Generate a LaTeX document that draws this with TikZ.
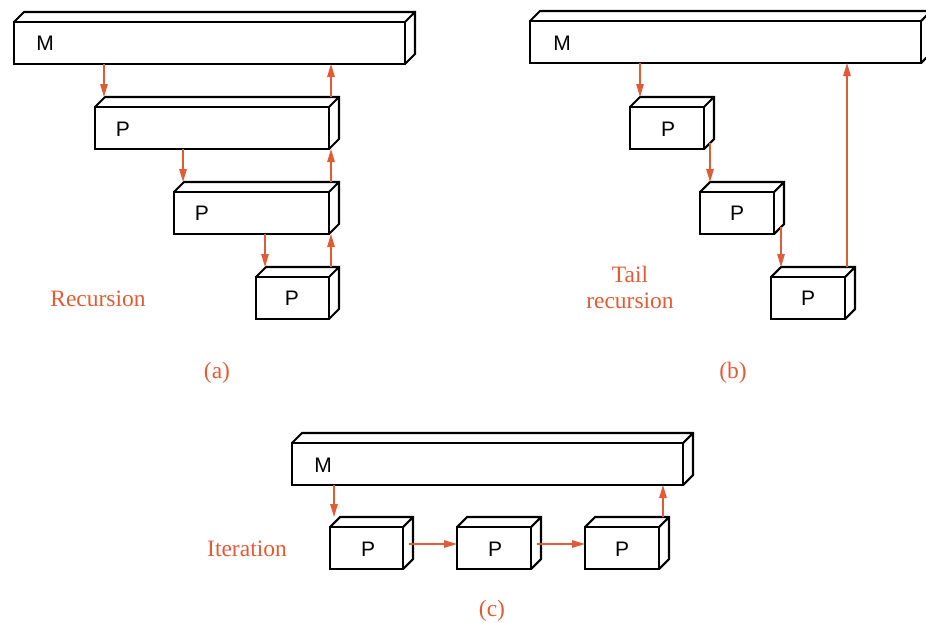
\documentclass[tikz,border=0pt]{standalone}
\usepackage{fontspec}
\setmainfont{Liberation Serif}
\newfontfamily\labsans{Liberation Sans}
\usetikzlibrary{calc,arrows.meta}
\definecolor{accent}{RGB}{224,92,54}
\newcommand\boxthreed[4]{%
  \node[frontface, minimum width=#4pt, anchor=north west] (#1) at (#2,#3) {};
  \coordinate (#1-t) at ($(#1.north west)+(10,-10)$);
  \draw[boxedge] (#1.north west) -- (#1-t) -- ($(#1.north east)+(10,-10)$)
     -- ($(#1.south east)+(10,-10)$) -- (#1.south east)
     (#1.north east) -- ($(#1.north east)+(10,-10)$);
}
\tikzset{
  frontface/.style={draw, line width=2.1pt, minimum height=42pt, inner sep=0pt, outer sep=0pt, rectangle},
  boxedge/.style={line width=2.1pt},
  arr/.style={draw=accent, line width=1.3pt, -{Triangle[length=13pt,width=7.5pt]}},
  boxlabel/.style={font=\labsans\fontsize{21}{24}\selectfont},
  caption/.style={text=accent, font=\fontsize{23.5}{26}\selectfont, align=center}
}
\begin{document}
\begin{tikzpicture}[x=1pt,y=-1pt]
\useasboundingbox (0,0) rectangle (926,622);
% ---------------- (a) recursion
\boxthreed{mA}{14}{22}{391}
\boxthreed{pA1}{95}{107}{234}
\boxthreed{pA2}{174}{192}{155}
\boxthreed{pA3}{256}{277}{73}
\node[boxlabel] (lmA) at (45,43) {M};
\node[boxlabel] (lpA1) at (123,129) {P};
\node[boxlabel] (lpA2) at (202,213) {P};
\node[boxlabel] (lpA3) at (292,298) {P};
\coordinate (ad1) at ($(mA.south west)+(90,0)$);
\draw[arr] (ad1) -- (ad1 |- pA1-t);
\coordinate (au1) at ($(pA1-t)+(226,0)$);
\draw[arr] (au1) -- (au1 |- mA.south);
\coordinate (ad2) at ($(pA1.south west)+(88,0)$);
\draw[arr] (ad2) -- (ad2 |- pA2-t);
\coordinate (au2) at ($(pA2-t)+(147,0)$);
\draw[arr] (au2) -- (au2 |- pA1.south);
\coordinate (ad3) at ($(pA2.south west)+(91,0)$);
\draw[arr] (ad3) -- (ad3 |- pA3-t);
\coordinate (au3) at ($(pA3-t)+(65,0)$);
\draw[arr] (au3) -- (au3 |- pA2.south);
\node[caption] (capA) at (98,299) {Recursion};
\node[caption] (tagA) at (217,373) {(a)};
% ---------------- (b) tail recursion
\boxthreed{mB}{530}{21}{391}
\boxthreed{pB1}{630}{107}{74}
\boxthreed{pB2}{700}{192}{74}
\boxthreed{pB3}{771}{277}{74}
\node[boxlabel] (lmB) at (562,43) {M};
\node[boxlabel] (lpB1) at (668,129) {P};
\node[boxlabel] (lpB2) at (737,213) {P};
\node[boxlabel] (lpB3) at (808,298) {P};
\coordinate (bd1) at ($(mB.south west)+(110,0)$);
\draw[arr] (bd1) -- (bd1 |- pB1-t);
\coordinate (bd2) at ($(pB1.south east)+(6,-6)$);
\draw[arr] (bd2) -- (bd2 |- pB2-t);
\coordinate (bd3) at ($(pB2.south east)+(7,-7)$);
\draw[arr] (bd3) -- (bd3 |- pB3-t);
\coordinate (bu1) at ($(pB3-t)+(66,0)$);
\draw[arr] (bu1) -- (bu1 |- mB.south);
\node[caption] (capB) at (630,287) {Tail\\recursion};
\node[caption] (tagB) at (733,373) {(b)};
% ---------------- (c) iteration
\boxthreed{mC}{292}{443}{391}
\boxthreed{pC1}{330}{527}{73}
\boxthreed{pC2}{457}{527}{74}
\boxthreed{pC3}{585}{527}{74}
\node[boxlabel] (lmC) at (323,465) {M};
\node[boxlabel] (lpC1) at (368,549) {P};
\node[boxlabel] (lpC2) at (495,549) {P};
\node[boxlabel] (lpC3) at (622,549) {P};
\coordinate (cd1) at ($(mC.south west)+(42,0)$);
\draw[arr] (cd1) -- (cd1 |- pC1-t);
\coordinate (ch1) at ($(pC1.east)+(6,-4)$);
\draw[arr] (ch1) -- (ch1 -| pC2.west);
\coordinate (ch2) at ($(pC2.east)+(6,-4)$);
\draw[arr] (ch2) -- (ch2 -| pC3.west);
\coordinate (cu1) at ($(pC3-t)+(68,0)$);
\draw[arr] (cu1) -- (cu1 |- mC.south);
\node[caption] (capC) at (247,549) {Iteration};
\node[caption] (tagC) at (492,611) {(c)};
\end{tikzpicture}
\end{document}
